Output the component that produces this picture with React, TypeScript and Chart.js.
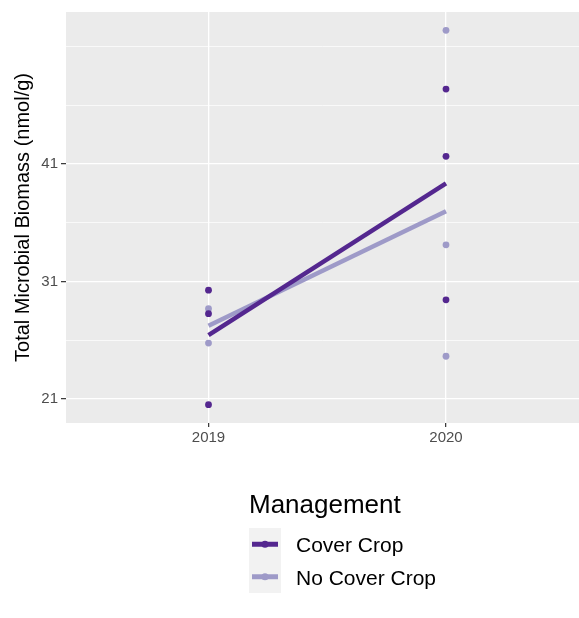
import React, { useEffect, useRef } from 'react';
import { Chart, registerables } from 'chart.js';

Chart.register(...registerables);

// ---- data ----
const years = [2019, 2020];
const coverCrop2019 = [30.26, 28.26, 20.52];
const coverCrop2020 = [47.37, 41.65, 29.44];
const noCover2019 = [28.68, 25.76];
const noCover2020 = [52.37, 34.12, 24.64];
const coverFit = [26.44, 39.35];
const noCoverFit = [27.24, 36.98];
const yMajorTicks = [21, 31, 41];
const yMinorTicks = [26, 36, 46, 51];
const seriesNames = ['Cover Crop', 'No Cover Crop'];
const seriesColors = ['#54278F', '#9E9AC8'];
const legendTitle = 'Management';
const yTitle = 'Total Microbial Biomass (nmol/g)';

const FONT = '"Liberation Sans", Arial, Helvetica, sans-serif';

const toPoints = (year: number, vals: number[]) => vals.map((v) => ({ x: year, y: v }));

const panelBg = {
  id: 'panelBg',
  beforeDraw(chart: any) {
    const { ctx, chartArea } = chart;
    ctx.save();
    ctx.fillStyle = '#EBEBEB';
    ctx.fillRect(chartArea.left, chartArea.top, chartArea.right - chartArea.left, chartArea.bottom - chartArea.top);
    ctx.restore();
  },
};

const ggLegend = {
  id: 'ggLegend',
  afterDraw(chart: any) {
    const { ctx } = chart;
    const x0 = 249;
    ctx.save();
    ctx.fillStyle = '#000';
    ctx.textBaseline = 'alphabetic';
    ctx.textAlign = 'left';
    ctx.font = `26px ${FONT}`;
    ctx.fillText(legendTitle, x0, 513);
    const keyTop = 528;
    const keySize = 32.5;
    ctx.fillStyle = '#F2F2F2';
    ctx.fillRect(x0, keyTop, 32, keySize * seriesNames.length);
    seriesNames.forEach((name, i) => {
      const cy = keyTop + keySize * i + keySize / 2;
      const color = seriesColors[i];
      ctx.strokeStyle = color;
      ctx.lineWidth = 5;
      ctx.lineCap = 'butt';
      ctx.beginPath();
      ctx.moveTo(x0 + 3, cy);
      ctx.lineTo(x0 + 29, cy);
      ctx.stroke();
      ctx.fillStyle = color;
      ctx.beginPath();
      ctx.arc(x0 + 16, cy, 3.6, 0, Math.PI * 2);
      ctx.fill();
      ctx.fillStyle = '#000';
      ctx.font = `21px ${FONT}`;
      ctx.fillText(name, 296, cy + 8);
    });
    ctx.restore();
  },
};

export default function App() {
  const ref = useRef<HTMLCanvasElement | null>(null);

  useEffect(() => {
    if (!ref.current) return;
    const isMajor = (v: number) => yMajorTicks.includes(v);
    const chart = new Chart(ref.current, {
      type: 'scatter',
      data: {
        datasets: [
          {
            type: 'line',
            label: seriesNames[0] + ' fit',
            data: years.map((yr, i) => ({ x: yr, y: coverFit[i] })),
            borderColor: seriesColors[0],
            backgroundColor: seriesColors[0],
            borderWidth: 4.5,
            pointRadius: 0,
            fill: false,
            order: 0,
          } as any,
          {
            type: 'line',
            label: seriesNames[1] + ' fit',
            data: years.map((yr, i) => ({ x: yr, y: noCoverFit[i] })),
            borderColor: seriesColors[1],
            backgroundColor: seriesColors[1],
            borderWidth: 4.5,
            pointRadius: 0,
            fill: false,
            order: 1,
          } as any,
          {
            label: seriesNames[0],
            data: [...toPoints(years[0], coverCrop2019), ...toPoints(years[1], coverCrop2020)],
            backgroundColor: seriesColors[0],
            borderColor: seriesColors[0],
            pointRadius: 3.4,
            borderWidth: 0,
            order: 2,
          },
          {
            label: seriesNames[1],
            data: [...toPoints(years[0], noCover2019), ...toPoints(years[1], noCover2020)],
            backgroundColor: seriesColors[1],
            borderColor: seriesColors[1],
            pointRadius: 3.4,
            borderWidth: 0,
            order: 3,
          },
        ],
      },
      options: {
        responsive: false,
        animation: false,
        events: [],
        layout: { padding: { top: 10, left: 0, right: 0, bottom: 0 } },
        plugins: {
          legend: { display: false },
          tooltip: { enabled: false },
        },
        scales: {
          x: {
            type: 'linear',
            min: 2018.4,
            max: 2020.56,
            afterBuildTicks: (scale: any) => {
              scale.ticks = years.map((v) => ({ value: v }));
            },
            afterFit: (scale: any) => {
              scale.height = 195;
            },
            border: { display: false },
            grid: {
              color: '#FFFFFF',
              lineWidth: 1.3,
              drawTicks: true,
              tickLength: 4,
              tickColor: '#333333',
              tickWidth: 1.2,
            },
            ticks: {
              autoSkip: false,
              maxRotation: 0,
              color: '#4D4D4D',
              padding: 2,
              font: { family: FONT, size: 15 },
              callback: (v: any) => String(v),
            },
          },
          y: {
            type: 'linear',
            min: 18.96,
            max: 53.93,
            afterBuildTicks: (scale: any) => {
              scale.ticks = [...yMajorTicks, ...yMinorTicks].sort((a, b) => a - b).map((v) => ({ value: v }));
            },
            afterFit: (scale: any) => {
              scale.width = 66;
            },
            border: { display: false },
            grid: {
              color: '#FFFFFF',
              lineWidth: (c: any) => (isMajor(c.tick?.value) ? 1.3 : 0.7),
              drawTicks: true,
              tickLength: 5,
              tickColor: (c: any) => (isMajor(c.tick?.value) ? '#333333' : 'rgba(0,0,0,0)'),
              tickWidth: 1.2,
            },
            ticks: {
              autoSkip: false,
              color: '#4D4D4D',
              padding: 3,
              font: { family: FONT, size: 15 },
              callback: (v: any) => (isMajor(Number(v)) ? String(v) : ''),
            },
            title: {
              display: true,
              text: yTitle,
              color: '#000000',
              font: { family: FONT, size: 20 },
              padding: { top: 11, bottom: 0 },
            },
          },
        },
      },
      plugins: [panelBg, ggLegend],
    } as any);
    return () => chart.destroy();
  }, []);

  return (
    <div style={{ position: 'absolute', left: 0, top: 0, width: 579, height: 618, background: '#fff', overflow: 'hidden' }}>
      <canvas ref={ref} width={583} height={618} style={{ display: 'block', width: 583, height: 618 }} />
    </div>
  );
}
